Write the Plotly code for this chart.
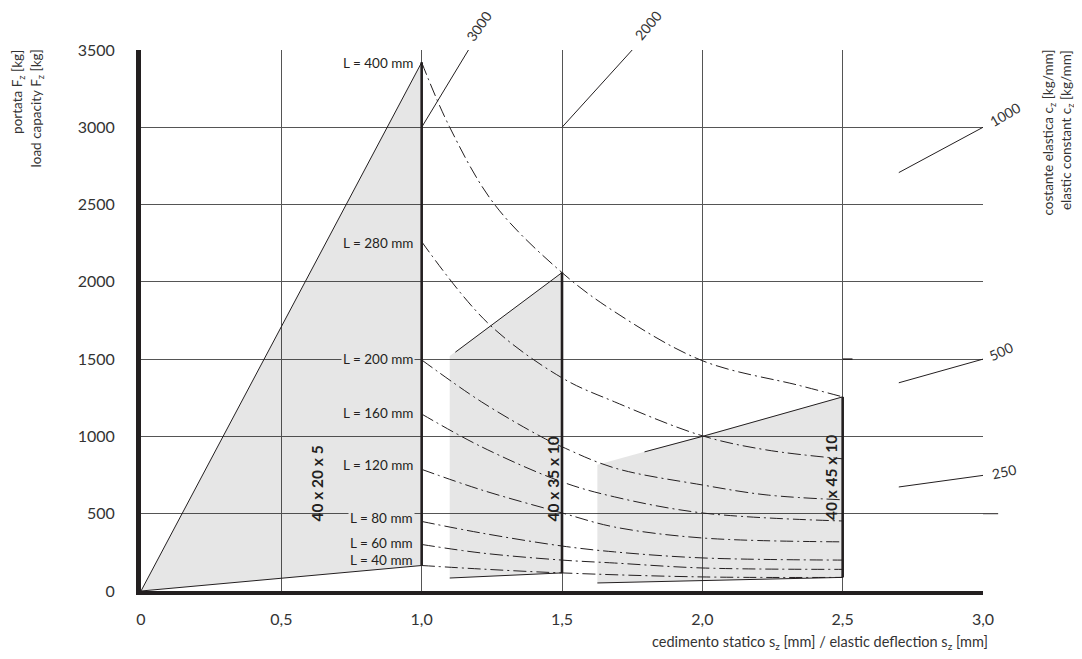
import plotly.graph_objects as go

FONT = "Lato"
INK = "#231f20"
GRID = "#555555"
FILL = "rgba(35,31,32,0.115)"
FILL_SOLID = "#e6e6e6"

# axes
x_ticks = [0, 0.5, 1.0, 1.5, 2.0, 2.5, 3.0]
x_tick_text = ["0", "0,5", "1,0", "1,5", "2,0", "2,5", "3,0"]
y_ticks = [0, 500, 1000, 1500, 2000, 2500, 3000, 3500]

# profile areas (deflection s [mm], load F [kg])
p20_s = [0.0, 1.0, 1.0]
p20_F = [0, 3420, 165]
p35_s = [1.1, 1.5, 1.5, 1.1]
p35_F = [1520, 2060, 117, 84]
p45_s = [1.626, 2.5, 2.5, 1.626]
p45_F = [816, 1256, 88, 52]
p35_top_s = [1.12, 1.5]
p35_top_F = [1545, 2060]
p45_top_s = [1.794, 2.0, 2.5]
p45_top_F = [900, 1000, 1256]

profile_names = ["40 x 20 x 5", "40 x 35 x 10", "40 x 45 x 10"]
profile_label_s = [0.626, 1.466, 2.459]
profile_label_F = [693, 725, 732]

# length curves L
L_names = ["L = 400 mm", "L = 280 mm", "L = 200 mm", "L = 160 mm",
           "L = 120 mm", "L = 80 mm", "L = 60 mm", "L = 40 mm"]
L_label_F = [3419, 2254, 1502, 1153, 816, 473, 311, 201]
L400_s = [1.0, 1.10, 1.26, 1.5, 1.687, 2.0, 2.345, 2.5]
L400_F = [3420, 3000, 2500, 2060, 1807, 1490, 1330, 1256]
L280_s = [1.0, 1.235, 1.5, 1.687, 2.0, 2.227, 2.5]
L280_F = [2260, 1735, 1379, 1224, 1004, 913, 855]
L200_s = [1.0, 1.213, 1.427, 1.5, 1.687, 2.0, 2.227, 2.5]
L200_F = [1495, 1224, 997, 933, 796, 686, 622, 590]
L160_s = [1.0, 1.213, 1.5, 1.687, 2.0, 2.5]
L160_F = [1145, 933, 706, 609, 505, 453]
L120_s = [1.0, 1.213, 1.5, 1.687, 2.0, 2.5]
L120_F = [787, 654, 505, 414, 343, 318]
L80_s = [1.0, 1.213, 1.5, 1.687, 2.0, 2.5]
L80_F = [450, 375, 291, 253, 214, 200]
L60_s = [1.0, 1.213, 1.5, 1.687, 2.0, 2.5]
L60_F = [301, 246, 200, 181, 149, 140]
L40_s = [1.0, 1.213, 1.5, 2.0, 2.5]
L40_F = [165, 142, 117, 91, 88]
L_curves = [(L400_s, L400_F), (L280_s, L280_F), (L200_s, L200_F), (L160_s, L160_F),
            (L120_s, L120_F), (L80_s, L80_F), (L60_s, L60_F), (L40_s, L40_F)]

# elastic constant lines c_z
c_top_names = ["3000", "2000"]
c_top_s = [[1.0, 1.1667], [1.5, 1.75]]
c_top_F = [[3000, 3500], [3000, 3500]]
c_right_names = ["1000", "500", "250"]
c_right_s = [[2.7, 3.0], [2.7, 3.0], [2.7, 3.0]]
c_right_F = [[2707, 3000], [1347, 1500], [673, 748]]

fig = go.Figure()

# fills
for s, F in [(p20_s, p20_F), (p35_s, p35_F), (p45_s, p45_F)]:
    fig.add_trace(go.Scatter(x=s, y=F, fill="toself", fillcolor=FILL, mode="none",
                             hoverinfo="skip", showlegend=False))

def line(s, F, w=1.0, dash="solid", shape="linear"):
    fig.add_trace(go.Scatter(x=s, y=F, mode="lines", showlegend=False, hoverinfo="skip",
                             line=dict(color=INK, width=w, dash=dash, shape=shape)))

# outlines
line([p20_s[0], p20_s[1]], [p20_F[0], p20_F[1]])
line([p20_s[0], p20_s[2]], [p20_F[0], p20_F[2]])
line(p35_top_s, p35_top_F)
line([p35_s[3], p35_s[2]], [p35_F[3], p35_F[2]])
line(p45_top_s, p45_top_F)
line([p45_s[3], p45_s[2]], [p45_F[3], p45_F[2]])

# thick verticals
line([p20_s[1], p20_s[2]], [p20_F[1], p20_F[2]], w=2.6)
line([p35_s[1], p35_s[2]], [p35_F[1], p35_F[2]], w=2.6)
line([p45_s[1], p45_s[2]], [p45_F[1], p45_F[2]], w=2.6)

# c lines
for s, F in zip(c_top_s, c_top_F):
    line(s, F)
for s, F in zip(c_right_s, c_right_F):
    line(s, F)

# L curves
for s, F in L_curves:
    line(s, F, w=1.0, dash="13px,4px,2px,4px", shape="spline")

ann = []
for name, F in zip(L_names, L_label_F):
    d = dict(x=0.978, y=F, xref="x", yref="y", text=name, showarrow=False,
             xanchor="right", yanchor="middle", font=dict(family=FONT, size=13.5, color=INK))
    if name in ("L = 80 mm", "L = 200 mm"):
        d["bgcolor"] = FILL_SOLID
    ann.append(d)
for name, s, F in zip(profile_names, profile_label_s, profile_label_F):
    ann.append(dict(x=s, y=F, xref="x", yref="y", text="<b>" + name + "</b>", showarrow=False,
                    textangle=-90, xanchor="center", yanchor="middle",
                    font=dict(family=FONT, size=15.5, color=INK)))

# c labels (paper coords)
c_label_pos = [(0.401, 1.043, -55), (0.602, 1.045, -50)]
for name, (px, py, ang) in zip(c_top_names, c_label_pos):
    ann.append(dict(x=px, y=py, xref="paper", yref="paper", text=name, showarrow=False,
                    textangle=ang, xanchor="center", yanchor="middle",
                    font=dict(family=FONT, size=14, color="#333")))
c_right_pos = [(1.026, 0.880, -30), (1.021, 0.442, -25), (1.025, 0.220, -12)]
for name, (px, py, ang) in zip(c_right_names, c_right_pos):
    ann.append(dict(x=px, y=py, xref="paper", yref="paper", text=name, showarrow=False,
                    textangle=ang, xanchor="center", yanchor="middle",
                    font=dict(family=FONT, size=14, color="#333")))

# axis titles
TF = dict(family=FONT, size=13.5, color="#333")
ann += [
    dict(x=-0.146, y=1.004, xref="paper", yref="paper", text="portata F<sub>z</sub> [kg]",
         showarrow=False, textangle=-90, xanchor="center", yanchor="top", font=TF),
    dict(x=-0.124, y=1.004, xref="paper", yref="paper", text="load capacity F<sub>z</sub> [kg]",
         showarrow=False, textangle=-90, xanchor="center", yanchor="top", font=TF),
    dict(x=1.078, y=1.004, xref="paper", yref="paper", text="costante elastica c<sub>z</sub> [kg/mm]",
         showarrow=False, textangle=-90, xanchor="center", yanchor="top", font=TF),
    dict(x=1.100, y=1.004, xref="paper", yref="paper", text="elastic constant c<sub>z</sub> [kg/mm]",
         showarrow=False, textangle=-90, xanchor="center", yanchor="top", font=TF),
    dict(x=1.008, y=-0.095, xref="paper", yref="paper",
         text="cedimento statico s<sub>z</sub> [mm] / elastic deflection s<sub>z</sub> [mm]",
         showarrow=False, xanchor="right", yanchor="middle",
         font=dict(family=FONT, size=14.5, color="#333")),
]

shapes = [
    # 500 gridline extension beyond plot
    dict(type="line", xref="paper", yref="paper", x0=1.0, x1=1.018, y0=500 / 3500, y1=500 / 3500,
         line=dict(color=INK, width=1)),
    # small mark on 1500 line
    dict(type="line", xref="x", yref="y", x0=2.5, x1=2.535, y0=1500, y1=1500,
         line=dict(color=INK, width=1.5)),
]

# page has an 8px body margin: size the figure so the plot area lands where the reference has it
fig.update_layout(
    width=1074, height=643,
    margin=dict(l=133, r=99, t=42, b=60),
    plot_bgcolor="white", paper_bgcolor="white",
    font=dict(family=FONT, size=16, color="#333"),
    annotations=ann, shapes=shapes, showlegend=False,
    xaxis=dict(range=[0, 3.0], tickvals=x_ticks, ticktext=x_tick_text, showgrid=True,
               gridcolor=GRID, gridwidth=1, zeroline=False, showline=True, linecolor=INK,
               linewidth=4, ticks="", ticklabelstandoff=11, tickfont=dict(size=16)),
    yaxis=dict(range=[0, 3500], tickvals=y_ticks, showgrid=True, gridcolor=GRID, gridwidth=1,
               zeroline=False, showline=True, linecolor=INK, linewidth=5, ticks="",
               ticklabelstandoff=18, tickfont=dict(size=16)),
)

fig.write_html("out.html")
